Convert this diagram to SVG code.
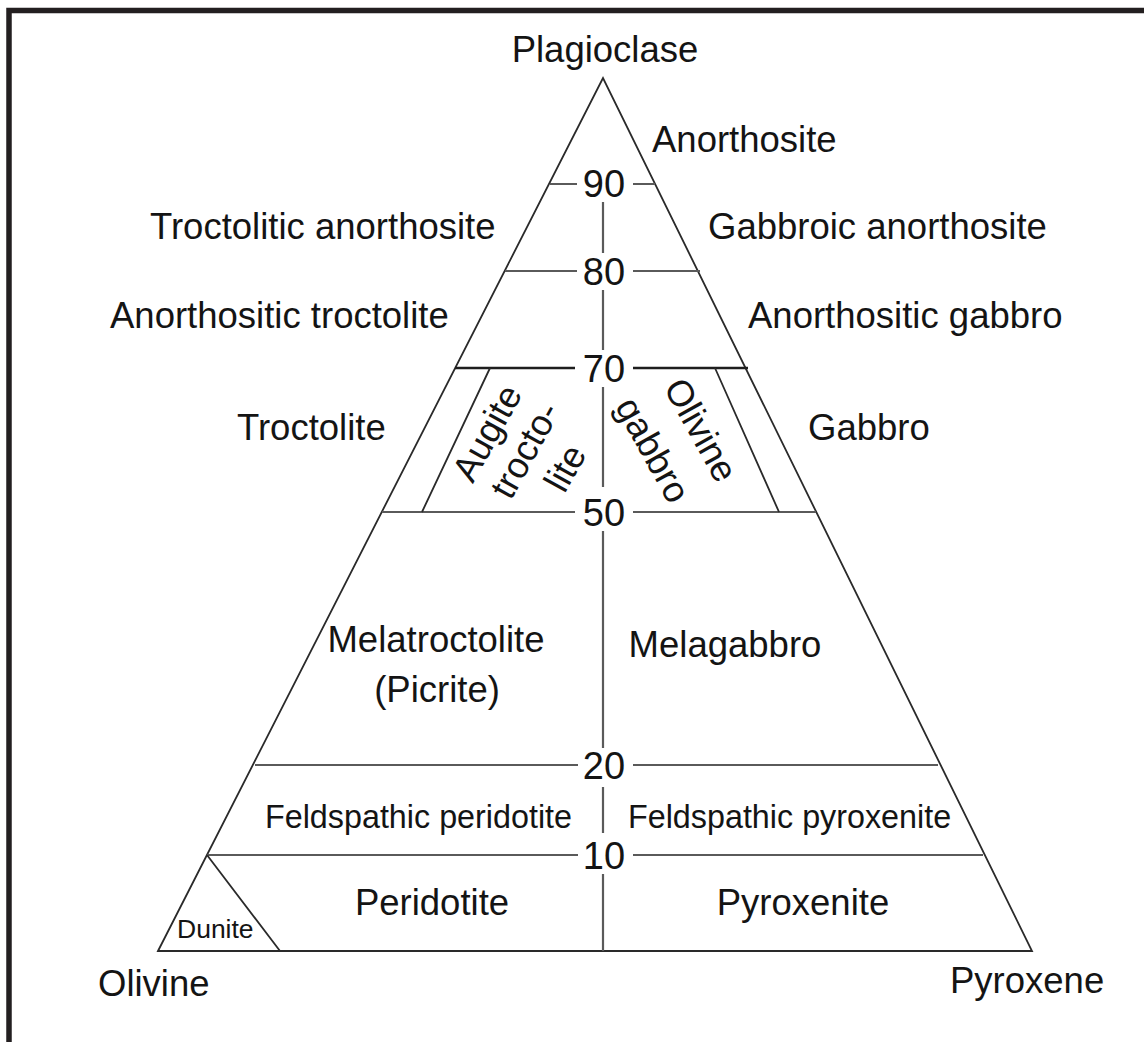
<svg xmlns="http://www.w3.org/2000/svg" width="1144" height="1042" viewBox="0 0 1144 1042">
<style>
text{font-family:"Liberation Sans",Arial,sans-serif;fill:#141414;}
.lbl{font-size:36.5px;}
.sm{font-size:32.3px;}
.num{font-size:38px;text-anchor:middle;}
.edge{stroke:#2a2a2a;stroke-width:1.8;fill:none;}
.h{stroke:#5a5a5a;stroke-width:2.2;fill:none;}
.h70{stroke:#1e1e1e;stroke-width:2.6;fill:none;}
.v{stroke:#5a5a5a;stroke-width:2.2;fill:none;}
.in{stroke:#2a2a2a;stroke-width:1.8;fill:none;}
</style>
<rect width="1144" height="1042" fill="#ffffff"/>
<path d="M9 1042 V10.5 H1144" stroke="#231f20" stroke-width="5.5" fill="none"/>
<g id="connectors">
<path class="edge" d="M158 951 L603 78 L1032 951 Z"/>
<path class="h" d="M550 184 H577 M633 184 H655"/>
<path class="h" d="M505 271 H577 M633 271 H700"/>
<path class="h70" d="M455 368 H575 M633 368 H748"/>
<path class="h" d="M382 512 H575 M633 512 H816"/>
<path class="h" d="M255 765 H578 M633 765 H938"/>
<path class="h" d="M207 855 H578 M633 855 H983"/>
<path class="v" d="M603 202 V253 M603 290 V350 M603 387 V487 M603 531 V748 M603 787 V833 M603 874 V951"/>
<path class="in" d="M490 368 L422 512 M715 368 L779 512 M207 855 L280 951"/>
</g>
<g id="numbers">
<text class="num" x="604" y="197">90</text>
<text class="num" x="604" y="285">80</text>
<text class="num" x="604" y="382">70</text>
<text class="num" x="604" y="526">50</text>
<text class="num" x="604" y="779">20</text>
<text class="num" x="604" y="869">10</text>
</g>
<g id="vertex-plagioclase"><text class="lbl" x="605" y="62" text-anchor="middle">Plagioclase</text></g>
<g id="vertex-olivine"><text class="lbl" x="98" y="996">Olivine</text></g>
<g id="vertex-pyroxene"><text class="lbl" x="950" y="993">Pyroxene</text></g>
<g id="anorthosite"><text class="lbl" x="652" y="152">Anorthosite</text></g>
<g id="troctolitic-anorthosite"><text class="lbl" x="150" y="239">Troctolitic anorthosite</text></g>
<g id="gabbroic-anorthosite"><text class="lbl" x="708" y="239">Gabbroic anorthosite</text></g>
<g id="anorthositic-troctolite"><text class="lbl" x="110" y="328">Anorthositic troctolite</text></g>
<g id="anorthositic-gabbro"><text class="lbl" x="748" y="328">Anorthositic gabbro</text></g>
<g id="troctolite"><text class="lbl" x="237" y="440">Troctolite</text></g>
<g id="gabbro"><text class="lbl" x="808" y="440">Gabbro</text></g>
<g id="augite-troctolite">
<text class="lbl" text-anchor="middle" dominant-baseline="central" transform="translate(487 433) rotate(-61)">Augite</text>
<text class="lbl" text-anchor="middle" dominant-baseline="central" transform="translate(525 450) rotate(-61)">trocto-</text>
<text class="lbl" text-anchor="middle" dominant-baseline="central" transform="translate(565 468) rotate(-61)">lite</text>
</g>
<g id="olivine-gabbro">
<text class="lbl" text-anchor="middle" dominant-baseline="central" transform="translate(701 430) rotate(61)">Olivine</text>
<text class="lbl" text-anchor="middle" dominant-baseline="central" transform="translate(653 450) rotate(61)">gabbro</text>
</g>
<g id="melatroctolite">
<text class="lbl" x="436" y="652" text-anchor="middle">Melatroctolite</text>
<text class="lbl" x="437" y="702" text-anchor="middle">(Picrite)</text>
</g>
<g id="melagabbro"><text class="lbl" x="725" y="657" text-anchor="middle">Melagabbro</text></g>
<g id="feldspathic-peridotite"><text class="sm" x="265" y="828">Feldspathic peridotite</text></g>
<g id="feldspathic-pyroxenite"><text class="sm" x="628" y="828">Feldspathic pyroxenite</text></g>
<g id="peridotite"><text class="lbl" x="432" y="915" text-anchor="middle">Peridotite</text></g>
<g id="pyroxenite"><text class="lbl" x="803" y="915" text-anchor="middle">Pyroxenite</text></g>
<g id="dunite"><text x="177" y="938" style="font-size:26.5px">Dunite</text></g>
</svg>
